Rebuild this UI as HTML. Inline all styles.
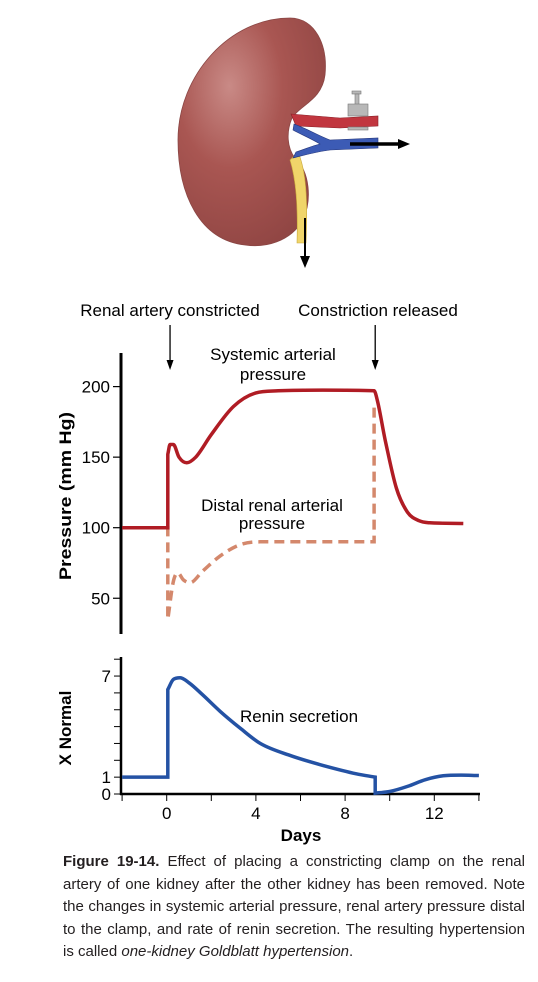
<!DOCTYPE html>
<html><head><meta charset="utf-8"><style>
body{margin:0;background:#fff;}
svg{display:block;font-family:"Liberation Sans",sans-serif;}
.cap{position:absolute;left:63px;top:851px;width:462px;font:15px/22.5px "Liberation Sans",sans-serif;color:#231f20;}
.cap span{display:block;text-align:justify;text-align-last:justify;white-space:nowrap;}
.cap span.last{text-align-last:left;}
</style></head><body>
<div style="position:relative;width:538px;height:982px;">
<svg width="538" height="982">
<defs>
<radialGradient id="kg" cx="0.35" cy="0.3" r="0.8">
<stop offset="0" stop-color="#c98a86"/><stop offset="0.45" stop-color="#a95652"/><stop offset="1" stop-color="#8e4442"/>
</radialGradient>
</defs>
<g>
<path d="M290,18 C315,18 328,45 325,75 C322,100 300,105 292,118 C286,132 287,148 295,158 C310,172 312,200 303,220 C290,242 265,248 245,245 C200,240 178,195 178,140 C178,75 230,18 290,18 Z" fill="url(#kg)" stroke="#8a4644" stroke-width="0.8"/>
<path d="M298,152 C306,170 308,200 306,243 L297,243 C298,205 296,180 290,160 Z" fill="#f0d56a" stroke="#c8a83a" stroke-width="0.6"/>
<path d="M291,114 L340,118 L378,116 L378,126 L340,128 L296,126 Z" fill="#c1363f" stroke="#8a2028" stroke-width="0.6"/>
<path d="M294,124 C310,130 315,134 330,140 L378,138 L378,148 L330,150 C315,152 305,155 293,158 L296,152 C308,148 312,146 320,144 C310,138 300,134 293,130 Z" fill="#3c5bb5" stroke="#26377a" stroke-width="0.6"/>
<g fill="#b8b8b8" stroke="#777" stroke-width="0.6">
<rect x="352" y="91" width="9" height="3"/><rect x="355" y="94" width="4" height="12"/>
<rect x="348" y="104" width="20" height="12"/><rect x="348" y="127" width="20" height="3"/>
</g>
<line x1="350" y1="144" x2="402" y2="144" stroke="#000" stroke-width="3.5"/>
<polygon points="410,144 398,139 398,149" fill="#000"/>
<line x1="305" y1="218" x2="305" y2="260" stroke="#000" stroke-width="2"/>
<polygon points="305,268 300,256 310,256" fill="#000"/>
</g>
<text x="170" y="316" font-size="17" text-anchor="middle">Renal artery constricted</text>
<text x="378" y="316" font-size="17" text-anchor="middle">Constriction released</text>
<g id="topchart"></g>
<g id="botchart"></g>
</svg>
<div class="cap"><span><b>Figure 19-14.</b> Effect of placing a constricting clamp on the renal</span><span>artery of one kidney after the other kidney has been removed. Note</span><span>the changes in systemic arterial pressure, renal artery pressure distal</span><span>to the clamp, and rate of renin secretion. The resulting hypertension</span><span class="last">is called <i>one-kidney Goldblatt hypertension</i>.</span></div>
</div>
<script>
const pressureTicks=[200,150,100,50];
const sysDays=[-2,0.05,0.05,0.15,0.3,0.55,0.9,1.3,2,3,4,5,7,9.3,9.45,9.8,10.3,10.8,11.3,11.8,13.3];
const sysVals=[100,100,152,159,159,150,146,150,166,186,195.5,197,197.5,197,190,162,128,111,105,103.5,103];
const distDays=[-0.01,0.05,0.05,0.3,0.5,0.75,1.05,1.6,2.4,3.3,4.2,5,9.3,9.3];
const distVals=[100,100,35,62,68,63,61,69,80,88,90,90,90,188];
const reninDays=[-2,0.05,0.05,0.3,0.6,1,1.6,2.4,3.3,4.2,5.5,7,8.5,9.35,9.35,10,10.8,11.6,12.4,13.2,14];
const reninVals=[1,1,6.2,6.8,6.9,6.6,5.9,4.9,3.9,3.0,2.3,1.7,1.2,1.0,0.05,0.15,0.45,0.85,1.08,1.12,1.1];
const xDayTicks=[0,4,8,12];
const reninTicks=[0,1,7];
const NS='http://www.w3.org/2000/svg';
const X=d=>166.7+(d)*22.3;
const YP=v=>527.7-(v-100)*1.411;
const YR=v=>794-v*16.85;
function mk(p,tag,at){const e=document.createElementNS(NS,tag);for(const k in at)e.setAttribute(k,at[k]);p.appendChild(e);return e;}
function monoSeg(s){
  const n=s.length;if(n===1)return '';
  if(n===2)return 'L'+s[1][0].toFixed(1)+','+s[1][1].toFixed(1);
  const dx=[],m=[],t=[];
  for(let i=0;i<n-1;i++){dx.push(s[i+1][0]-s[i][0]);m.push((s[i+1][1]-s[i][1])/dx[i]);}
  t[0]=m[0];t[n-1]=m[n-2];
  for(let i=1;i<n-1;i++){t[i]=(m[i-1]*m[i]<=0)?0:(m[i-1]+m[i])/2;}
  for(let i=0;i<n-1;i++){if(m[i]===0){t[i]=0;t[i+1]=0;continue;}const a=t[i]/m[i],b=t[i+1]/m[i],h=a*a+b*b;if(h>9){const k=3/Math.sqrt(h);t[i]=k*a*m[i];t[i+1]=k*b*m[i];}}
  let d='';
  for(let i=0;i<n-1;i++){const h=dx[i]/3;
    d+='C'+(s[i][0]+h).toFixed(1)+','+(s[i][1]+t[i]*h).toFixed(1)+' '+(s[i+1][0]-h).toFixed(1)+','+(s[i+1][1]-t[i+1]*h).toFixed(1)+' '+s[i+1][0].toFixed(1)+','+s[i+1][1].toFixed(1);}
  return d;
}
function pathFrom(xs,ys){
  const segs=[];let seg=[[xs[0],ys[0]]];
  for(let i=1;i<xs.length;i++){
    if(Math.abs(xs[i]-xs[i-1])<1e-6){segs.push(seg);seg=[[xs[i],ys[i]]];}
    else seg.push([xs[i],ys[i]]);
  }
  segs.push(seg);
  let d='';
  segs.forEach((s,i)=>{d+=(i===0?'M':'L')+s[0][0].toFixed(1)+','+s[0][1].toFixed(1)+monoSeg(s);});
  return d;
}
const topG=document.getElementById('topchart');
let e=mk(topG,'line',{x1:121,y1:353,x2:121,y2:634,stroke:'#000','stroke-width':3});


pressureTicks.forEach(v=>{
  let t=mk(topG,'line',{x1:113,x2:121,y1:YP(v),y2:YP(v),stroke:'#000','stroke-width':1.2});
  
  
  let l=mk(topG,'text',{x:110,y:YP(v)+6,'font-size':17,'text-anchor':'end'});l.textContent=v;
  
  
});
e=mk(topG,'text',{transform:'translate(71,496) rotate(-90)','font-size':17,'font-weight':'bold','text-anchor':'middle',textLength:168,lengthAdjust:'spacingAndGlyphs'});e.textContent='Pressure (mm Hg)';


e=mk(topG,'path',{d:pathFrom(distDays.map(X),distVals.map(YP)),fill:'none',stroke:'#d4886c','stroke-width':3.5,'stroke-dasharray':'10,6'});


e=mk(topG,'path',{d:pathFrom(sysDays.map(X),sysVals.map(YP)),fill:'none',stroke:'#b01c24','stroke-width':3.5});


[X(0.15),X(9.35)].forEach(ax=>{
  let l=mk(topG,'line',{x1:ax,x2:ax,y1:325,y2:362,stroke:'#000','stroke-width':1.3});
  
  
  mk(topG,'polygon',{points:`${ax},370 ${ax-3.5},360 ${ax+3.5},360`,fill:'#000'});
});
e=mk(topG,'text',{x:273,y:360,'font-size':17,'text-anchor':'middle'});e.textContent='Systemic arterial';


e=mk(topG,'text',{x:273,y:380,'font-size':17,'text-anchor':'middle'});e.textContent='pressure';


e=mk(topG,'text',{x:272,y:511,'font-size':17,'text-anchor':'middle'});e.textContent='Distal renal arterial';


e=mk(topG,'text',{x:272,y:529,'font-size':17,'text-anchor':'middle'});e.textContent='pressure';



const botG=document.getElementById('botchart');
e=mk(botG,'line',{x1:121,y1:657,x2:121,y2:795,stroke:'#000','stroke-width':2.5});


e=mk(botG,'line',{x1:120,y1:794,x2:480,y2:794,stroke:'#000','stroke-width':2.5});


for(let v=0;v<=8;v++){
  let t=mk(botG,'line',{x1:114,x2:121,y1:YR(v),y2:YR(v),stroke:'#000','stroke-width':1});
  
  
}
reninTicks.forEach(v=>{
  let l=mk(botG,'text',{x:111,y:YR(v)+6,'font-size':17,'text-anchor':'end'});l.textContent=v;
  
  
});
for(let d=-2;d<=14;d+=2){
  let t=mk(botG,'line',{x1:X(d),x2:X(d),y1:794,y2:801,stroke:'#000','stroke-width':1});
  
  
}
xDayTicks.forEach(d=>{
  let l=mk(botG,'text',{x:X(d),y:819,'font-size':17,'text-anchor':'middle'});l.textContent=d;
  
  
});
e=mk(botG,'text',{x:301,y:841,'font-size':17,'font-weight':'bold','text-anchor':'middle'});e.textContent='Days';


e=mk(botG,'text',{transform:'translate(71,728) rotate(-90)','font-size':17,'font-weight':'bold','text-anchor':'middle'});e.textContent='X Normal';


e=mk(botG,'path',{d:pathFrom(reninDays.map(X),reninVals.map(YR)),fill:'none',stroke:'#2452a4','stroke-width':3.5});


e=mk(botG,'text',{x:299,y:722,'font-size':17,'text-anchor':'middle'});e.textContent='Renin secretion';


</script>
</body></html>
